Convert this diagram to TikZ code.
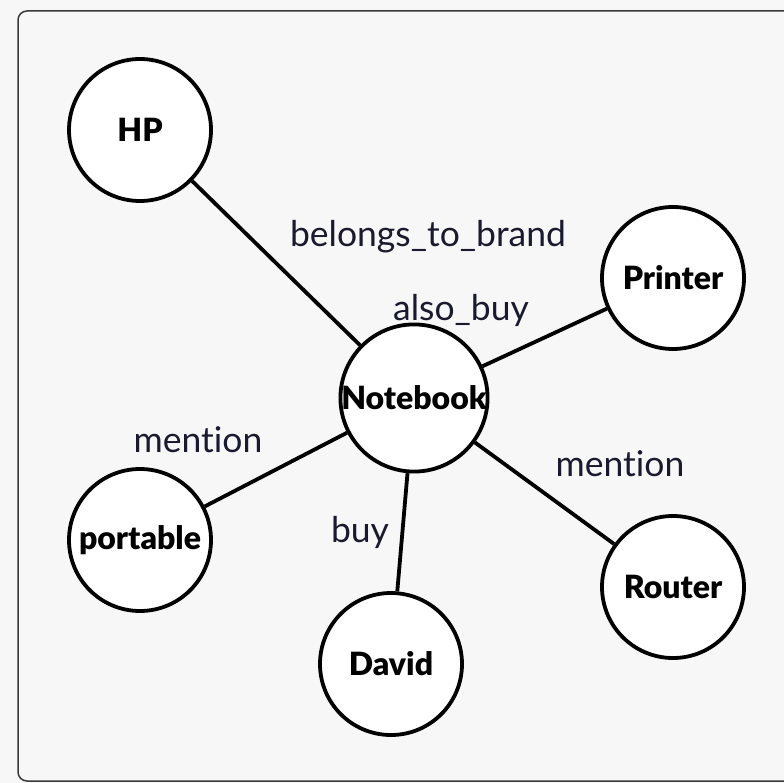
\documentclass[tikz,border=0pt]{standalone}
\usepackage{fontspec}
\setmainfont{Lato}[Ligatures={NoCommon}]
\newfontfamily\heavyfont{Lato Black}[Ligatures={NoCommon}]
\usepackage{tikz}
\usetikzlibrary{positioning}
\definecolor{KGBack}{HTML}{F7F7F7}
\definecolor{KGFrame}{HTML}{3A3A3A}
\definecolor{KGText}{HTML}{1A1A2E}

\begin{document}
\begin{tikzpicture}[
  x=1pt, y=-1pt,
  entity/.style={circle, draw=black, fill=white, line width=3.8pt, minimum size=142pt, inner sep=0pt, font=\heavyfont\fontsize{32}{36}\selectfont, text=black},
  relation/.style={font=\fontsize{35.5}{38}\selectfont, text=KGText, inner sep=0pt},
  link/.style={line width=3.8pt, black}
]
\useasboundingbox (0,0) rectangle (784,783);
\fill[KGBack] (0,0) rectangle (784,783);
\draw[KGFrame, line width=1.5pt, rounded corners=9pt] (18,11) rectangle (800,781);
% entities
\node[entity] (notebook) at (414,398) {Notebook};
\node[entity] (hp) at (140,130) {HP};
\node[entity] (printer) at (673,278) {Printer};
\node[entity] (portable) at (140,540) {portable};
\node[entity] (david) at (391,664) {David};
\node[entity] (router) at (673,587) {Router};
% relations
\draw[link] (hp) -- (notebook);
\draw[link] (printer) -- (notebook);
\draw[link] (portable) -- (notebook);
\draw[link] (david) -- (notebook);
\draw[link] (router) -- (notebook);
\node[relation] (lbrand) at (428,237) {belongs\_to\_brand};
\node[relation] (lalso) at (461,310) {also\_buy};
\node[relation] (lmentl) at (198,440) {mention};
\node[relation] (lbuy) at (360,532) {buy};
\node[relation] (lmentr) at (620,464) {mention};
\end{tikzpicture}
\end{document}
